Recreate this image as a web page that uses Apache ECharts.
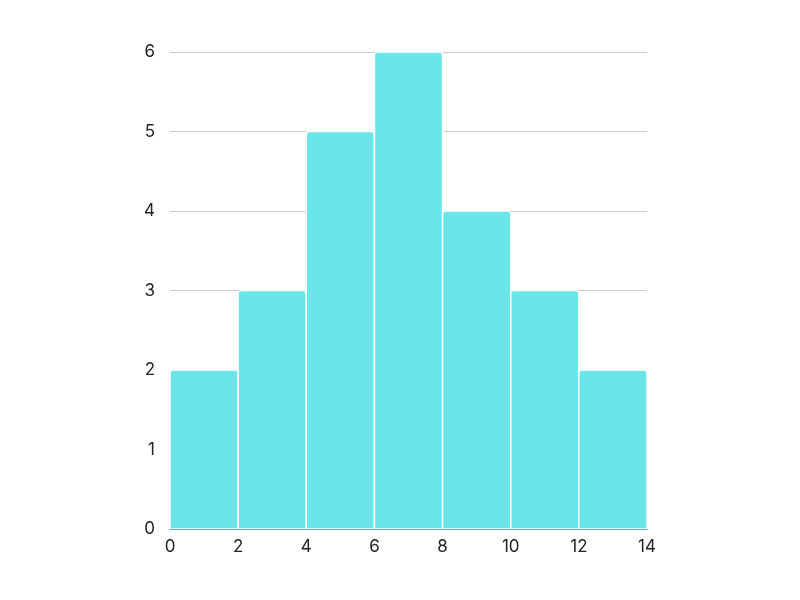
<!DOCTYPE html>
<html><head><meta charset="utf-8">
<script src="https://cdn.jsdelivr.net/npm/echarts@6/dist/echarts.min.js"></script>
<style>html,body{margin:0;padding:0;background:#fff}#c{width:800px;height:600px}</style>
</head><body><div id="c"></div>
<script>
const binStarts = [0, 2, 4, 6, 8, 10, 12];
const binEnds = [2, 4, 6, 8, 10, 12, 14];
const counts = [2, 3, 5, 6, 4, 3, 2];

const data = binStarts.map((s, i) => [s, binEnds[i], counts[i]]);
const chart = echarts.init(document.getElementById('c'));
chart.setOption({
  animation: false,
  grid: { left: 170, right: 153, top: 52, bottom: 71 },
  xAxis: {
    type: 'value', min: 0, max: 14, interval: 2, z: 5,
    axisLine: { show: true, lineStyle: { color: '#5fb3b5', width: 1.2 } },
    axisTick: { show: false },
    splitLine: { show: false },
    axisLabel: { color: '#222', fontSize: 17, fontFamily: 'Inter', margin: 9 }
  },
  yAxis: {
    type: 'value', min: 0, max: 6, interval: 1,
    axisLine: { show: false }, axisTick: { show: false },
    splitLine: { lineStyle: { color: '#cccccc', width: 1 } },
    axisLabel: { color: '#222', fontSize: 17, fontFamily: 'Inter', margin: 15 }
  },
  series: [{
    type: 'custom',
    data: data,
    encode: { x: [0, 1], y: 2 },
    renderItem: function (params, api) {
      const p0 = api.coord([api.value(0), api.value(2)]);
      const p1 = api.coord([api.value(1), 0]);
      return {
        type: 'rect',
        shape: { x: p0[0], y: p0[1], width: p1[0] - p0[0], height: p1[1] - p0[1], r: [3, 3, 0, 0] },
        style: { fill: '#6ae5e8', stroke: '#ffffff', lineWidth: 1.5 }
      };
    }
  }]
});
</script></body></html>
